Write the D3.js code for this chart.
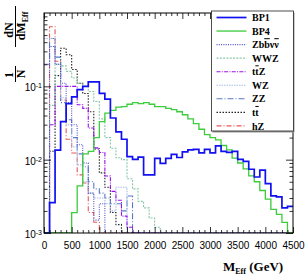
<!DOCTYPE html>
<html><head><meta charset="utf-8">
<script src="https://cdn.jsdelivr.net/npm/d3@7/dist/d3.min.js"></script>
<style>html,body{margin:0;padding:0;background:#fff;}svg{display:block}</style>
</head><body>
<svg id="c" width="305" height="277"></svg>
<script>
// ---- data (100 GeV bins) ----
const binLow = [0,100,200,300,400,500,600,700,800,900,1000,1100,1200,1300,1400,1500,1600,1700,1800,1900,2000,2100,2200,2300,2400,2500,2600,2700,2800,2900,3000,3100,3200,3300,3400,3500,3600,3700,3800,3900,4000,4100,4200,4300,4400];
const xMax = 4500;
const xTickValues = [0,500,1000,1500,2000,2500,3000,3500,4000,4500];
const yTickValues = [0.001,0.01,0.1];
const yTickExp = ["-3","-2","-1"];

const bp1 = [0,0.0026,0.0135,0.033,0.058,0.072,0.09,0.1,0.115,0.115,0.08,0.067,0.037,0.024,0.019,0.011,0.0101,0.0108,0.0062,0.0062,0.0104,0.0089,0.0104,0.0118,0.0107,0.0128,0.0136,0.0138,0.0124,0.0138,0.0124,0.0154,0.013,0.0126,0.013,0.0101,0.0095,0.0074,0.0058,0.0072,0.0047,0.0032,0.0031,0.0022,0.0023];
const bp4 = [0,0,0,0,0,0.0019,0.0044,0.012,0.013,0.02,0.033,0.043,0.047,0.052,0.053,0.057,0.06,0.058,0.06,0.057,0.053,0.053,0.05,0.048,0.045,0.041,0.036,0.031,0.026,0.022,0.02,0.0186,0.0156,0.0136,0.0105,0.009,0.0075,0.006,0.005,0.0038,0.0029,0.0021,0.0018,0.0014,0];
const zbbvv = [0,0.35,0.2,0.11,0.06,0.03,0.016,0.009,0.0035,0.0015,0.0025,0,0,0,0,0,0,0,0,0,0,0,0,0,0,0,0,0,0,0,0,0,0,0,0,0,0,0,0,0,0,0,0,0,0];
const wwz = [0,0.055,0.2,0.19,0.16,0.13,0.11,0.1,0.085,0.062,0.036,0.02,0.0143,0.0106,0.01,0.0055,0.004,0.0027,0.0022,0.0016,0.0012,0,0,0,0,0,0,0,0,0,0,0,0,0,0,0,0,0,0,0,0,0,0,0,0];
const ttz = [0,0.03,0.1,0.1,0.1,0.1,0.056,0.05,0.027,0.0145,0.0125,0.006,0.0037,0.0028,0.0017,0.0012,0,0,0,0,0,0,0,0,0,0,0,0,0,0,0,0,0,0,0,0,0,0,0,0,0,0,0,0,0];
const wz = [0.45,0.45,0.2,0.07,0.03,0.015,0.0085,0.005,0.0035,0.003,0.003,0.0025,0.002,0.0042,0.0042,0,0,0,0,0,0,0,0,0,0,0,0,0,0,0,0,0,0,0,0,0,0,0,0,0,0,0,0,0,0];
const zz = [0.2,0.45,0.25,0.06,0.035,0.02,0.012,0.008,0.005,0.004,0.0035,0.003,0.0025,0.0025,0.002,0.0032,0,0,0,0,0,0,0,0,0,0,0,0,0,0,0,0,0,0,0,0,0,0,0,0,0,0,0,0,0];
const tt = [0,0.013,0.14,0.33,0.27,0.17,0.11,0.08,0.045,0.014,0.0066,0.0042,0.0019,0.0013,0,0,0,0,0,0,0,0,0,0,0,0,0,0,0,0,0,0,0,0,0,0,0,0,0,0,0,0,0,0,0];
const hz = [0,0.65,0.22,0.065,0.019,0.0123,0.0062,0.0048,0.0019,0.0014,0,0,0,0,0,0,0,0,0,0,0,0,0,0,0,0,0,0,0,0,0,0,0,0,0,0,0,0,0,0,0,0,0,0,0];

// legend names: {x} marks a barred letter
const seriesNames = ["BP1","BP4","Zb{b}ν{ν}","WWZ","t{t}Z","WZ","ZZ","t{t}","hZ"];
const seriesData = [bp1,bp4,zbbvv,wwz,ttz,wz,zz,tt,hz];
const seriesColor = ["#1010f0","#3ccc3c","#5050c8","#88c8a8","#9a10f0","#a8bce8","#5a78c8","#222222","#e85858"];
const seriesDash = [null,null,"1,1.3","2,1.3","4,1.3,1,1.3","1.5,1","6,2,1,2","1.5,1.5","5,2,1,2"];
const seriesWidth = [1.7,1.3,1.1,1.1,1.1,1.1,1.1,1.1,1.1];

// ---- layout ----
const P = {l:44, r:293, t:13, b:233};
const svg = d3.select("#c");
const x = d3.scaleLinear().domain([0, xMax]).range([P.l, P.r]);
const y = d3.scaleLog().domain([1e-3, 1]).range([P.b, P.t]);

svg.append("defs").append("clipPath").attr("id","clip")
  .append("rect").attr("x",P.l).attr("y",P.t).attr("width",P.r-P.l).attr("height",P.b-P.t);

const line = d3.line()
  .x(d => x(d[0]))
  .y(d => y(Math.max(d[1], 1e-3)))
  .curve(d3.curveStepAfter);

const plot = svg.append("g").attr("clip-path","url(#clip)");
const order = [8,7,6,5,4,3,2,1,0];
order.forEach(i => {
  const v = seriesData[i];
  const pts = binLow.map((b,k) => [b, v[k]]);
  pts.push([xMax, v[v.length-1]]);
  plot.append("path").attr("d", line(pts))
    .attr("fill","none").attr("stroke", seriesColor[i])
    .attr("stroke-width", seriesWidth[i])
    .attr("stroke-dasharray", seriesDash[i]);
});

// ---- axes ----
const minorX = binLow.filter(b => b % 500 !== 0);
const minorY = [];
[0.001,0.01,0.1].forEach(d => [2,3,4,5,6,7,8,9].forEach(m => minorY.push(d*m)));
const tickStyle = g => { g.select(".domain").remove(); g.selectAll("line").attr("stroke","#000").attr("stroke-width",0.8); };

svg.append("g").attr("transform",`translate(0,${P.b})`)
  .call(d3.axisBottom(x).tickValues(xTickValues).tickSize(-6).tickPadding(9).tickFormat(d3.format("d")))
  .call(tickStyle)
  .call(g => g.selectAll("text").attr("font-family","Liberation Sans, Arial, sans-serif").attr("font-size",10).attr("fill","#000"));
svg.append("g").attr("transform",`translate(0,${P.b})`)
  .call(d3.axisBottom(x).tickValues(minorX).tickSize(-3).tickFormat("")).call(tickStyle);
svg.append("g").attr("transform",`translate(0,${P.t})`)
  .call(d3.axisTop(x).tickValues(xTickValues).tickSize(-6).tickFormat("")).call(tickStyle);
svg.append("g").attr("transform",`translate(0,${P.t})`)
  .call(d3.axisTop(x).tickValues(minorX).tickSize(-3).tickFormat("")).call(tickStyle);

const yl = svg.append("g").attr("transform",`translate(${P.l},0)`)
  .call(d3.axisLeft(y).tickValues(yTickValues).tickSize(-7).tickPadding(2).tickFormat(() => "10"))
  .call(tickStyle);
yl.selectAll("text").attr("font-family","Liberation Sans, Arial, sans-serif").attr("font-size",10).attr("fill","#000")
  .attr("dy","0.45em")
  .each(function(d,i){ d3.select(this).append("tspan").attr("dy","-0.45em").attr("font-size",7).text(yTickExp[i]); });
svg.append("g").attr("transform",`translate(${P.l},0)`)
  .call(d3.axisLeft(y).tickValues(minorY).tickSize(-3.5).tickFormat("")).call(tickStyle);
svg.append("g").attr("transform",`translate(${P.r},0)`)
  .call(d3.axisRight(y).tickValues(yTickValues).tickSize(-7).tickFormat("")).call(tickStyle);
svg.append("g").attr("transform",`translate(${P.r},0)`)
  .call(d3.axisRight(y).tickValues(minorY).tickSize(-3.5).tickFormat("")).call(tickStyle);

svg.append("rect").attr("x",P.l).attr("y",P.t).attr("width",P.r-P.l).attr("height",P.b-P.t)
  .attr("fill","none").attr("stroke","#000").attr("stroke-width",1);

// ---- legend ----
const L = {x0:211.5, y0:11, x1:293.5, y1:131};
const leg = svg.append("g");
leg.append("rect").attr("x",L.x0+1).attr("y",L.y0+1.5).attr("width",L.x1-L.x0).attr("height",L.y1-L.y0)
  .attr("fill","#999");
leg.append("rect").attr("x",L.x0).attr("y",L.y0).attr("width",L.x1-L.x0).attr("height",L.y1-L.y0)
  .attr("fill","#fff").attr("stroke","#222").attr("stroke-width",0.8);
seriesNames.forEach((n,i) => {
  const yy = 17.5 + 13.55*i;
  leg.append("line").attr("x1",216.5).attr("x2",246.5).attr("y1",yy).attr("y2",yy)
    .attr("stroke",seriesColor[i]).attr("stroke-width",seriesWidth[i]).attr("stroke-dasharray",seriesDash[i]);
  const t = leg.append("text").attr("x",252).attr("y",yy+3.6)
    .attr("font-family","Liberation Serif, DejaVu Serif, serif").attr("font-weight","bold").attr("font-size",10);
  n.split(/(\{[^}]*\})/).filter(s => s.length).forEach(s => {
    if (s[0] === "{") t.append("tspan").style("text-decoration","overline").text(s.slice(1,-1));
    else t.append("tspan").text(s);
  });
});

// ---- axis titles ----
const serif = "Liberation Serif, DejaVu Serif, serif";
const xt = svg.append("text").attr("x",223).attr("y",271).attr("font-family",serif).attr("font-weight","bold").attr("font-size",13);
xt.append("tspan").text("M");
xt.append("tspan").attr("font-size",8).attr("dy",3).text("Eff");
xt.append("tspan").attr("dy",-3).text(" (GeV)");

const ytg = svg.append("g").attr("transform","rotate(-90)").attr("font-family",serif).attr("font-weight","bold").attr("font-size",12);
ytg.append("text").attr("x",-75).attr("y",13).attr("text-anchor","middle").text("1");
ytg.append("line").attr("x1",-82).attr("x2",-66).attr("y1",15.5).attr("y2",15.5).attr("stroke","#000").attr("stroke-width",1);
ytg.append("text").attr("x",-74).attr("y",25).attr("text-anchor","middle").text("N");
ytg.append("text").attr("x",-30).attr("y",13).attr("text-anchor","middle").text("dN");
ytg.append("line").attr("x1",-47).attr("x2",-6).attr("y1",15.5).attr("y2",15.5).attr("stroke","#000").attr("stroke-width",1);
const dm = ytg.append("text").attr("x",-26).attr("y",25).attr("text-anchor","middle");
dm.append("tspan").text("dM");
dm.append("tspan").attr("font-size",8).attr("dy",3).text("Eff");
</script>
</body></html>
